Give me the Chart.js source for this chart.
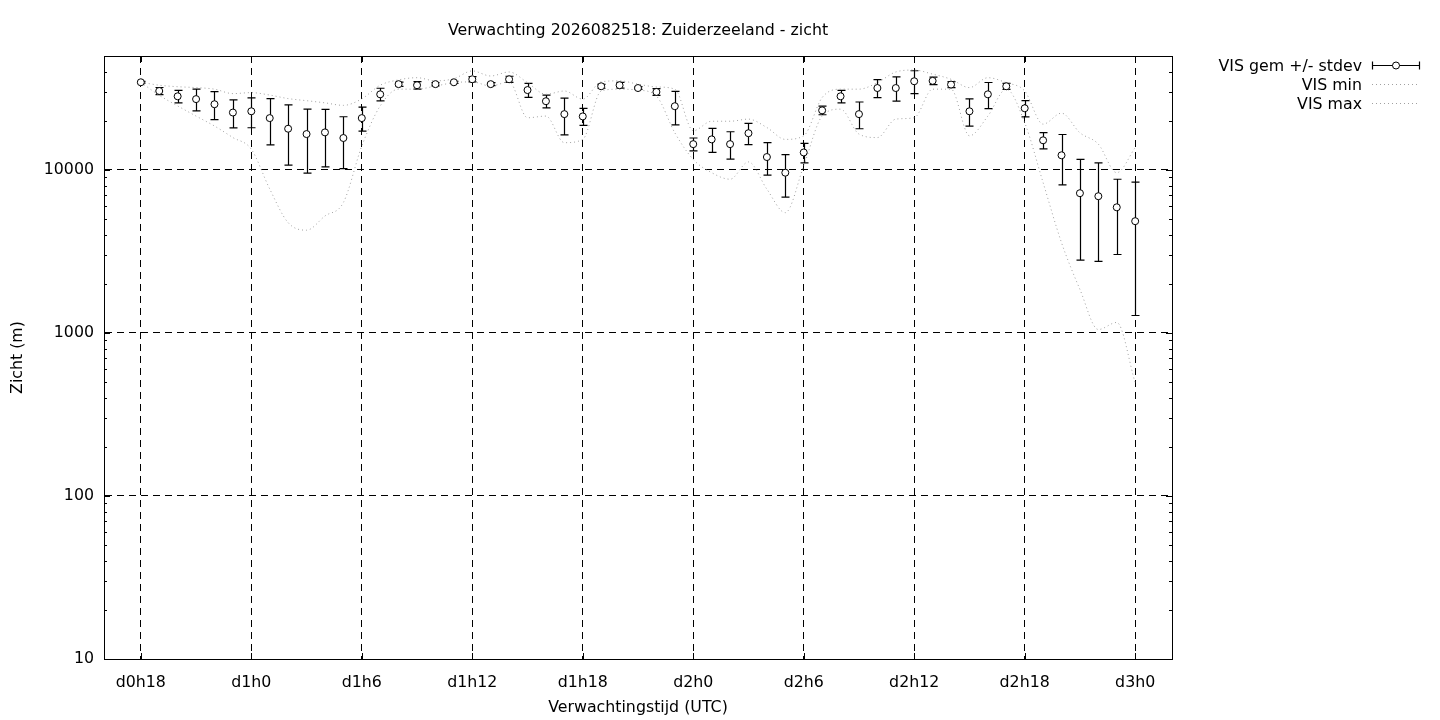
<!DOCTYPE html>
<html>
<head>
<meta charset="utf-8">
<script src="https://cdn.jsdelivr.net/npm/chart.js@4.4.0/dist/chart.umd.min.js"></script>
<style>
html, body { margin: 0; padding: 0; background: #fff; }
canvas { display: block; }
</style>
</head>
<body>
<canvas id="chart" width="1440" height="720"></canvas>
<script>
// forecast hour (hours since d0h0)
const hours = [18, 19, 20, 21, 22, 23, 24, 25, 26, 27, 28, 29, 30, 31, 32, 33, 34, 35, 36, 37,
    38, 39, 40, 41, 42, 43, 44, 45, 46, 47, 48, 49, 50, 51, 52, 53, 54, 55, 56, 57,
    58, 59, 60, 61, 62, 63, 64, 65, 66, 67, 68, 69, 70, 71, 72];

const visMean = [34500, 30500, 28300, 27200, 25300, 22500, 22900, 20800, 17900, 16600, 17000, 15700, 20800, 29100, 33600, 33100, 33600, 34500, 36000, 33600,
    36000, 30900, 26400, 22000, 21300, 32600, 33100, 31800, 30100, 24600, 14400, 15400, 14400, 16800, 12000, 9620, 12800, 23200, 28300, 22000,
    31800, 31800, 35000, 35200, 33400, 22900, 29100, 32600, 23900, 15200, 12300, 7200, 6900, 5900, 4850];

const visStdev = [400, 1550, 2500, 4150, 4950, 4400, 4750, 6550, 7200, 7030, 6550, 5500, 3500, 2600, 1000, 1750, 800, 500, 1350, 700,
    1550, 3050, 2400, 5600, 2550, 900, 1350, 600, 1450, 5700, 1300, 2600, 2750, 2500, 2710, 2800, 1750, 1400, 2500, 4100,
    4000, 5400, 5600, 1850, 1450, 4350, 5300, 1350, 2750, 1750, 4200, 4400, 4150, 2870, 3570];

const visMin = [34500, 28700, 24700, 21400, 18600, 15800, 13400, 7640, 4750, 4270, 5220, 6310, 14000, 24700, 31300, 31300, 32700, 34300, 34700, 32700,
    34700, 20900, 21400, 14700, 15400, 30500, 31300, 30900, 28400, 16900, 11600, 9620, 8770, 11200, 7620, 5470, 10600, 21400, 23600, 16600,
    15800, 20500, 20900, 31300, 31300, 16200, 21400, 31300, 19500, 8360, 3580, 1850, 1050, 1160, 495];

const visMax = [34500, 33100, 32400, 32000, 31300, 29400, 29800, 28800, 27400, 26600, 25800, 24900, 27300, 33100, 35700, 36800, 35200, 36300, 40500, 37700,
    39900, 34300, 29100, 30500, 27200, 34700, 35200, 33600, 32300, 31300, 17400, 19900, 19900, 20500, 18200, 15400, 16200, 27800, 31300, 31300,
    34300, 39900, 41000, 38700, 36000, 32000, 36800, 34300, 30500, 19100, 22300, 16900, 14400, 9620, 13700];

const xTickHours = [18, 24, 30, 36, 42, 48, 54, 60, 66, 72];
const xTickLabels = ['d0h18', 'd1h0', 'd1h6', 'd1h12', 'd1h18', 'd2h0', 'd2h6', 'd2h12', 'd2h18', 'd3h0'];
const yMajorTicks = [10, 100, 1000, 10000];
const yMinorTicks = [20, 30, 40, 50, 60, 70, 80, 90,
    200, 300, 400, 500, 600, 700, 800, 900,
    2000, 3000, 4000, 5000, 6000, 7000, 8000, 9000,
    20000, 30000, 40000];

const titleText = 'Verwachting 2026082518: Zuiderzeeland - zicht';
const legendLabels = ['VIS gem +/- stdev', 'VIS min', 'VIS max'];

const FONT_FAMILY = '"DejaVu Sans", sans-serif';
const FONT_SIZE = 15.8;
const DOT_COLOR = '#a0a0a0';

const gnuplotLook = {
    id: 'gnuplotLook',
    beforeDatasetsDraw(chart) {
        const {ctx} = chart;
        const xs = chart.scales.x;
        const ys = chart.scales.y;
        ctx.save();
        ctx.strokeStyle = '#000';
        ctx.lineWidth = 1.2;
        hours.forEach((h, i) => {
            const x = Math.round(xs.getPixelForValue(h)) + 0.5;
            const top = ys.getPixelForValue(visMean[i] + visStdev[i]);
            const bot = ys.getPixelForValue(Math.max(visMean[i] - visStdev[i], 10));
            ctx.beginPath();
            ctx.moveTo(x, top);
            ctx.lineTo(x, bot);
            ctx.moveTo(x - 4, top);
            ctx.lineTo(x + 4, top);
            ctx.moveTo(x - 4, bot);
            ctx.lineTo(x + 4, bot);
            ctx.stroke();
        });
        ctx.restore();
    },
    afterDraw(chart) {
        const {ctx, chartArea: a} = chart;
        const xs = chart.scales.x;
        const ys = chart.scales.y;
        ctx.save();
        ctx.strokeStyle = '#000';
        ctx.lineWidth = 1;

        // inward tick marks on all four sides
        ctx.beginPath();
        yMajorTicks.concat(yMinorTicks).forEach(v => {
            const y = Math.round(ys.getPixelForValue(v)) + 0.5;
            const len = yMajorTicks.includes(v) ? 6 : 3;
            ctx.moveTo(a.left, y);
            ctx.lineTo(a.left + len, y);
            ctx.moveTo(a.right, y);
            ctx.lineTo(a.right - len, y);
        });
        xTickHours.forEach(h => {
            const x = Math.round(xs.getPixelForValue(h)) + 0.5;
            ctx.moveTo(x, a.bottom);
            ctx.lineTo(x, a.bottom - 6);
            ctx.moveTo(x, a.top);
            ctx.lineTo(x, a.top + 6);
        });
        ctx.stroke();

        // frame
        ctx.strokeRect(Math.round(a.left) + 0.5, Math.round(a.top) + 0.5,
            Math.round(a.right - a.left), Math.round(a.bottom - a.top));

        // title
        ctx.fillStyle = '#000';
        ctx.font = FONT_SIZE + 'px ' + FONT_FAMILY;
        ctx.textAlign = 'center';
        ctx.textBaseline = 'middle';
        ctx.fillText(titleText, (a.left + a.right) / 2, 30.5);

        // legend
        const textX = 1362;
        const sx0 = 1372, sx1 = 1420;
        const rows = [65, 84, 103];
        ctx.textAlign = 'right';
        legendLabels.forEach((label, i) => ctx.fillText(label, textX, rows[i] + 1.5));

        const y0 = rows[0] + 0.5;
        ctx.lineWidth = 1.2;
        ctx.beginPath();
        ctx.moveTo(sx0, y0);
        ctx.lineTo(sx1, y0);
        ctx.moveTo(sx0 + 0.5, y0 - 4);
        ctx.lineTo(sx0 + 0.5, y0 + 4);
        ctx.moveTo(sx1 - 0.5, y0 - 4);
        ctx.lineTo(sx1 - 0.5, y0 + 4);
        ctx.stroke();
        ctx.beginPath();
        ctx.arc((sx0 + sx1) / 2, y0, 3.5, 0, Math.PI * 2);
        ctx.fillStyle = '#fff';
        ctx.fill();
        ctx.lineWidth = 1;
        ctx.stroke();

        ctx.strokeStyle = DOT_COLOR;
        ctx.setLineDash([1, 3]);
        [rows[1], rows[2]].forEach(r => {
            ctx.beginPath();
            ctx.moveTo(sx0, r + 0.5);
            ctx.lineTo(sx1, r + 0.5);
            ctx.stroke();
        });
        ctx.restore();
    }
};

const toPoints = arr => hours.map((h, i) => ({x: h, y: arr[i]}));

new Chart(document.getElementById('chart'), {
    type: 'line',
    data: {
        datasets: [
            {
                label: legendLabels[0],
                data: toPoints(visMean),
                showLine: false,
                pointStyle: 'circle',
                pointRadius: 3.5,
                pointBackgroundColor: '#fff',
                pointBorderColor: '#000',
                pointBorderWidth: 1,
                order: 0,
            },
            {
                label: legendLabels[1],
                data: toPoints(visMin),
                borderColor: DOT_COLOR,
                borderWidth: 1,
                borderDash: [1, 3],
                pointRadius: 0,
                cubicInterpolationMode: 'monotone',
                order: 1,
            },
            {
                label: legendLabels[2],
                data: toPoints(visMax),
                borderColor: DOT_COLOR,
                borderWidth: 1,
                borderDash: [1, 3],
                pointRadius: 0,
                cubicInterpolationMode: 'monotone',
                order: 1,
            },
        ],
    },
    options: {
        responsive: false,
        animation: false,
        devicePixelRatio: 1,
        layout: {
            padding: {top: 56, right: 268, left: 0, bottom: 0},
        },
        plugins: {
            legend: {display: false},
            title: {display: false},
            tooltip: {enabled: false},
        },
        scales: {
            x: {
                type: 'linear',
                min: 16,
                max: 74,
                afterBuildTicks: scale => {
                    scale.ticks = xTickHours.map(v => ({value: v}));
                },
                afterFit: scale => {
                    scale.height = 61;
                },
                ticks: {
                    autoSkip: false,
                    maxRotation: 0,
                    padding: 14,
                    color: '#000',
                    font: {family: FONT_FAMILY, size: FONT_SIZE},
                    callback: (value, index) => xTickLabels[index],
                },
                grid: {
                    color: '#000',
                    lineWidth: 1,
                    drawTicks: false,
                },
                border: {display: true, color: '#000', dash: [7, 5]},
                title: {
                    display: true,
                    text: 'Verwachtingstijd (UTC)',
                    color: '#000',
                    font: {family: FONT_FAMILY, size: FONT_SIZE},
                    padding: {top: 0, bottom: 2.5},
                },
            },
            y: {
                type: 'logarithmic',
                min: 10,
                max: 50000,
                afterBuildTicks: scale => {
                    scale.ticks = yMajorTicks.concat(yMinorTicks)
                        .sort((p, q) => p - q)
                        .map(v => ({value: v}));
                },
                afterFit: scale => {
                    scale.width = 104;
                },
                ticks: {
                    autoSkip: false,
                    padding: 10,
                    color: '#000',
                    font: {family: FONT_FAMILY, size: FONT_SIZE},
                    callback: value => yMajorTicks.includes(value) ? String(value) : '',
                },
                grid: {
                    color: c => yMajorTicks.includes(c.tick.value) ? '#000' : 'rgba(0,0,0,0)',
                    lineWidth: 1,
                    drawTicks: false,
                },
                border: {display: true, color: '#000', dash: [7, 5]},
                title: {
                    display: true,
                    text: 'Zicht (m)',
                    color: '#000',
                    font: {family: FONT_FAMILY, size: FONT_SIZE},
                    padding: {top: 8, bottom: 0},
                },
            },
        },
    },
    plugins: [gnuplotLook],
});
</script>
</body>
</html>
